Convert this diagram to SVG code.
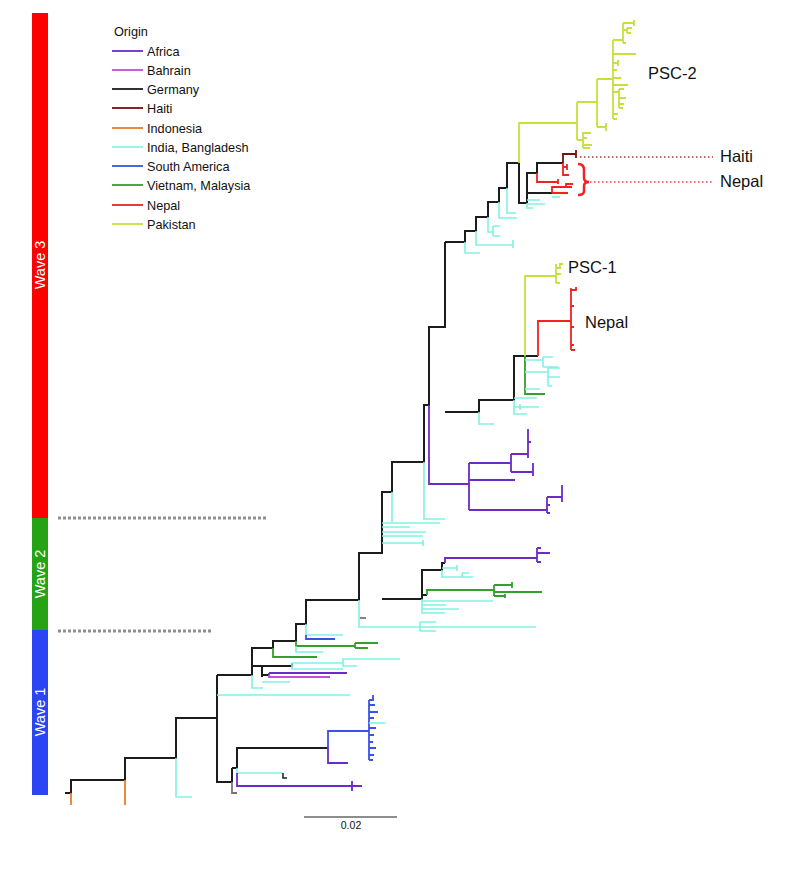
<svg xmlns="http://www.w3.org/2000/svg" width="800" height="889" viewBox="0 0 800 889">
<style>
text{font-family:"Liberation Sans",Arial,sans-serif;fill:#111}
.lg{font-size:12.7px}
.big{font-size:16.5px}
.wave{font-size:14.5px;fill:#fff;text-anchor:middle}
path{fill:none;stroke-linecap:butt}
.ge{stroke:#1c1c1c;stroke-width:2}
.af{stroke:#6a2bc8;stroke-width:1.8}
.bh{stroke:#c04ee0;stroke-width:1.8}
.ht{stroke:#7a0d0d;stroke-width:1.8}
.in{stroke:#f07a28;stroke-width:1.8}
.ib{stroke:#80f2e2;stroke-width:1.6}
.sa{stroke:#3a52e6;stroke-width:1.8}
.vm{stroke:#33a02c;stroke-width:1.8}
.np{stroke:#f02222;stroke-width:1.8}
.pk{stroke:#c8df40;stroke-width:1.8}
.gr{stroke:#777;stroke-width:1.8}
.dot{stroke:#8a9096;stroke-width:3;stroke-dasharray:3 2}
</style>

<g id="waves">
<rect x="32" y="13" width="16" height="505" fill="#ff0000"/>
<rect x="32" y="518" width="16" height="112" fill="#26a314"/>
<rect x="32" y="630" width="16" height="165" fill="#2b45f5"/>
<text class="wave" transform="translate(45,265) rotate(-90)">Wave 3</text>
<text class="wave" transform="translate(45,574) rotate(-90)">Wave 2</text>
<text class="wave" transform="translate(45,712) rotate(-90)">Wave 1</text>
<path class="dot" d="M58 518 H268"/>
<path class="dot" d="M58 631 H212"/>
</g>

<g id="legend">
<text class="lg" x="114" y="36">Origin</text>
<path class="af" d="M112 51 H143"/><text class="lg" x="147" y="55.5">Africa</text>
<path class="bh" d="M112 70 H143"/><text class="lg" x="147" y="74.5">Bahrain</text>
<path class="ge" style="stroke-width:1.8" d="M112 89 H143"/><text class="lg" x="147" y="93.5">Germany</text>
<path class="ht" d="M112 108 H143"/><text class="lg" x="147" y="112.5">Haiti</text>
<path class="in" d="M112 128 H143"/><text class="lg" x="147" y="132.5">Indonesia</text>
<path class="ib" d="M112 147 H143"/><text class="lg" x="147" y="151.5">India, Bangladesh</text>
<path class="sa" d="M112 166 H143"/><text class="lg" x="147" y="170.5">South America</text>
<path class="vm" d="M112 185 H143"/><text class="lg" x="147" y="189.5">Vietnam, Malaysia</text>
<path class="np" d="M112 205 H143"/><text class="lg" x="147" y="209.5">Nepal</text>
<path class="pk" d="M112 224 H143"/><text class="lg" x="147" y="228.5">Pakistan</text>
</g>

<g id="connectors">
<!-- backbone bottom -->
<path class="ge" d="M65 793 H71 V780 H125 V758 H176 V718 H217"/>
<path class="in" d="M71 793 V805"/>
<path class="in" d="M125 780 V805"/>
<path class="ib" d="M176 758 V797 H192"/>
<path class="ge" d="M217 675 V782 H232"/>
<path class="ib" d="M217 695 H350"/>
<path class="ge" d="M232 768 V782"/>
<path class="gr" d="M232 782 V793 H237"/>
<path class="ge" d="M232 768 H237 V748 H328"/>
<path class="ib" d="M237 768 V773 H283"/>
<path class="ge" style="stroke-width:1.5" d="M283 773 V778 H287"/>
<path class="af" d="M237 773 V786 H362 M352 781 V791"/>
<path class="sa" d="M328 748 V731 H369 M369 700 V760 M369 700 H373 V695 M369 705 H375 M369 712 H378 M369 718 H374 M369 728 H376 M369 735 H374 M369 742 H373 M369 748 H376 M369 755 H374 M369 760 H373"/>
<path class="ib" d="M369 723 H385"/>
<path class="af" d="M328 748 V763 H348"/>

<!-- lower middle -->
<path class="ge" d="M217 675 H252 V648 H273 V641 H296 V624 H306 V600 H359 V553 H382 V492 H392 V462 H424 V405 H429 V327 H445 V242"/>
<path class="ge" d="M252 666 H262 V677 M262 666 H292 V663 M262 675 H269"/>
<path class="ib" d="M252 675 V688 H263 M262 682 H290"/>
<path class="ib" d="M292 663 V669 H343 M292 663 H343 V659 H400 M343 663 V666 H357"/>
<path class="af" d="M269 673 V675 M269 673 H347"/>
<path class="bh" d="M269 675 V677 H330"/>
<path class="vm" d="M273 648 V657 H317"/>
<path class="vm" d="M296 641 V646 H355 M355 643 V648 M355 643 H378 M355 648 H368"/>
<path class="ib" d="M296 646 V652 H323"/>
<path class="ib" d="M306 624 V635 H343"/>
<path class="sa" d="M306 635 V639 H335"/>
<path class="ib" d="M359 600 V627 H420 M420 622 V631 M420 622 H436 M420 627 H536 M420 631 H436"/>
<path class="gr" d="M360 618 H366"/>
<path class="ge" d="M382 599 H422 V570 H442 V563 H445"/>
<path class="af" d="M445 563 V558 H537 M537 548 V562 M537 553 H550 M537 548 H541 M537 562 H541"/>
<path class="ib" d="M442 570 V577 H473 M442 568 H457 M457 565 V571 M462 573 V577 M462 573 H469"/>
<path class="ge" d="M422 599 V595 H427"/>
<path class="vm" d="M427 595 V590 H494 M494 585 V596 M494 585 H512 M512 582 V588 M494 592 H542 M494 596 H505 M505 594 V598"/>
<path class="ib" d="M422 599 V613 H445 M422 601 H493 M422 605 H446 M422 609 H459"/>
<path class="ib" d="M382 523 H440 M382 527 H410 M382 532 H426 M382 536 H423 M382 543 H423 M423 540 V546"/>
<path class="ib" d="M392 492 V522 M424 462 V519 H445"/>

<!-- Africa clade -->
<path class="af" d="M429 405 V484 H469 M469 463 V510 M469 463 H511 M511 454 V472 M511 454 H528 M528 429 V458 M528 442 H531 M511 472 H533 M533 463 V476 M469 480 H515 M469 510 H547 M547 497 V513 M547 497 H562 M562 485 V502 M547 505 H550 M547 513 H550"/>

<!-- upper middle -->
<path class="ge" d="M445 412 H479 V400 H514 V356 H525 M525 356 H538"/>
<path class="ib" d="M479 412 V424 H494"/>
<path class="ib" d="M514 400 V414 H527 M514 398 H537 M514 407 H539 M520 404 V410"/>
<path class="pk" d="M525 356 V276 H556 M556 264 V283 M556 268 H560 V264 H563 M556 274 H561 M556 283 H560"/>
<path class="np" d="M538 356 V321 H571 M571 288 V350 M571 290 H576 V287 M571 306 H574 M571 327 H574 M571 345 H574 M571 350 H575"/>
<path class="vm" d="M525 356 V394 H545"/>
<path class="ib" d="M525 360 H543 M543 357 V367 M543 357 H553 M543 367 H558 M525 372 H548 M548 368 V386 M548 368 H560 M548 377 H560 M548 386 H552 M525 389 H540"/>

<!-- top backbone -->
<path class="ge" d="M445 242 H465 V231 H476 V217 H488 V202 H499 V188 H507 V163 H519 V203 H527 V173 H537 V163 H563"/>
<path class="ib" d="M465 242 V253 H480"/>
<path class="ib" d="M476 231 V245 H513 M513 240 V248"/>
<path class="ib" d="M488 217 V232 H493 M493 226 V236 M493 226 H500 M493 236 H500"/>
<path class="ib" d="M499 202 V218 H517"/>
<path class="ib" d="M507 188 V213 H516"/>
<path class="ib" d="M527 203 V208 H533 M527 200 H540 M527 204 H545"/>
<path class="ge" d="M527 193 H552"/>
<path class="np" d="M552 193 H568 M552 193 V187 H566 V184 H573 M566 187 H572"/>
<path class="ib" d="M552 197 H560"/>
<path class="np" d="M537 173 V182 H558 M558 179 V184"/>
<path class="ht" d="M563 163 V154 H576 M576 150 V158"/>
<path class="np" d="M563 163 V175 H569 M563 167 H567 M567 164 V170"/>

<!-- Pakistan PSC-2 -->
<path class="pk" d="M519 163 V123 H577 M577 102 V140 M577 102 H597 M597 79 V127 M597 127 H606 M606 123 V131 M597 79 H613 M613 40 V119"/>
<path class="pk" d="M577 140 H583 M583 132 V148 M583 133 H591 M583 138 H587 M583 145 H592 M583 148 H590"/>
<path class="pk" d="M613 40 H623 M623 23 V43 M623 23 H634 M634 20 V26 M623 30 H627 M627 28 V33 M627 28 H632 M627 33 H631 M623 43 H626"/>
<path class="pk" d="M613 54 H636 M613 63 H618 M618 60 V66 M613 70 H617 M613 78 H621 M613 85 H628 M613 92 H619 M619 89 V108 M619 89 H624 M619 98 H626 M619 104 H624 M619 108 H623 M613 114 H618 M613 119 H617"/>

<!-- Haiti / Nepal annotation -->
<path class="np" style="stroke-width:2.5" d="M578 164 Q584 164 584 170 V178 Q584 182 589 182 Q584 182 584 186 V191 Q584 195 578 195"/>
<path style="stroke:#a83a3a;stroke-width:1.3;stroke-dasharray:1.5 2.5" d="M580 157 H713"/>
<path style="stroke:#e84040;stroke-width:1.3;stroke-dasharray:1.5 2.5" d="M590 182 H713"/>

<!-- scale bar -->
<path class="ge" style="stroke-width:1.2" d="M304 817 H397"/>
</g>

<g id="labels">
<text class="big" x="648" y="79">PSC-2</text>
<text class="big" x="720" y="162">Haiti</text>
<text class="big" x="720" y="187">Nepal</text>
<text class="big" x="568" y="273">PSC-1</text>
<text class="big" x="585" y="328">Nepal</text>
<text x="351" y="829" style="font-size:10.5px;text-anchor:middle">0.02</text>
</g>
</svg>
